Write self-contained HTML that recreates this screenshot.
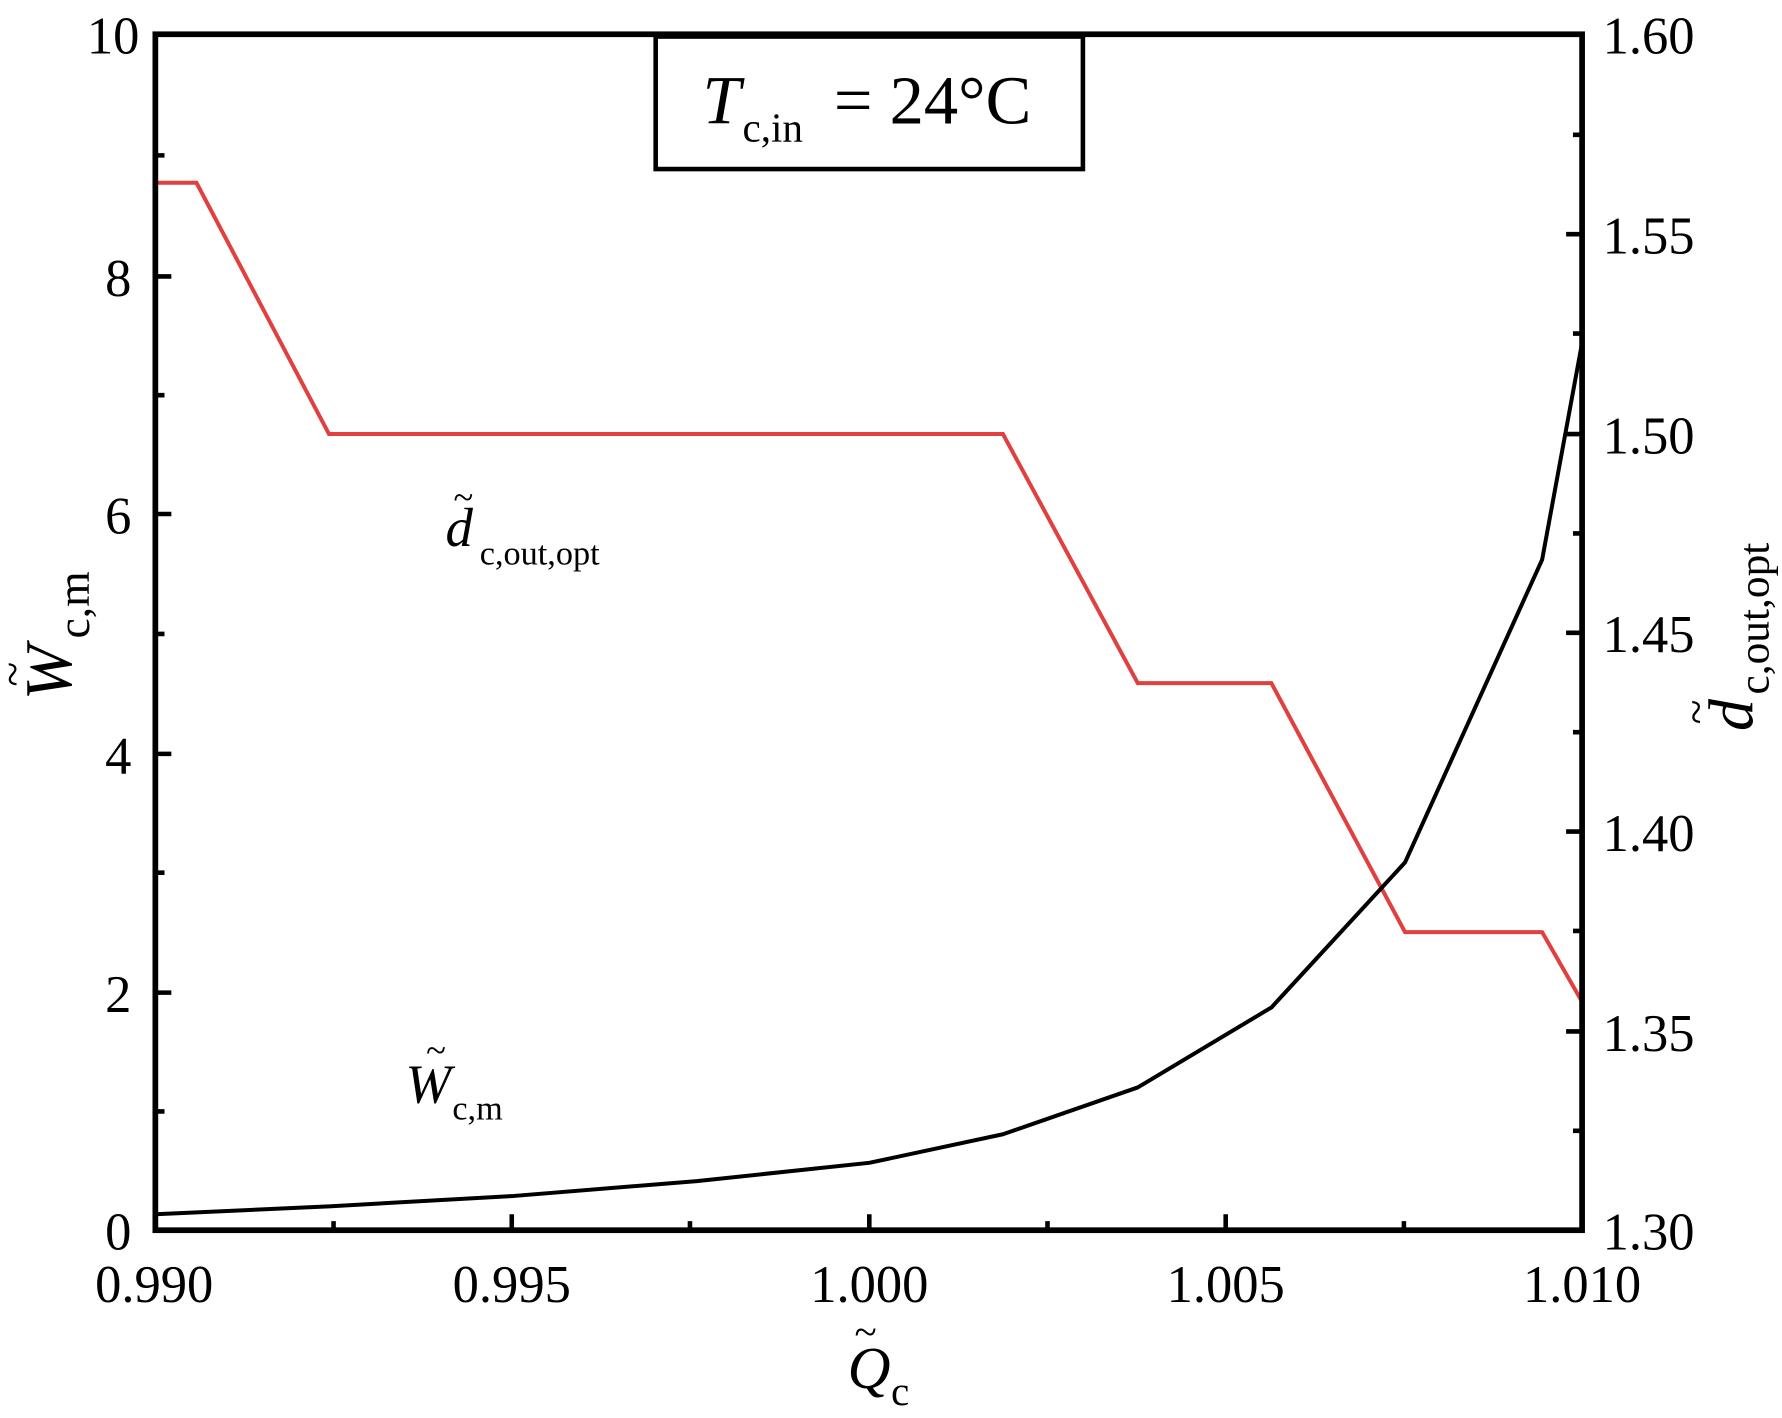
<!DOCTYPE html>
<html><head><style>html,body{margin:0;padding:0;background:#fff}svg{display:block}</style></head>
<body>
<svg width="1782" height="1418" viewBox="0 0 1560 1241.4" preserveAspectRatio="none" xmlns="http://www.w3.org/2000/svg" font-family="Liberation Serif, serif">
<rect width="1560" height="1242" fill="#fff"/>
<polyline fill="none" stroke="#e04040" stroke-width="3.5" points="136,160 172,160 288,380 878,380 996,598 1113,598 1230,816 1350,816 1385,877"/>
<polyline fill="none" stroke="#000" stroke-width="3.5" stroke-linejoin="round" points="136,1063 290,1056 450,1047 610,1034 761,1018 878,993 996,952 1113,882 1230,755 1350,490 1385,300"/>
<rect x="136" y="30" width="1249" height="1047" fill="none" stroke="#000" stroke-width="5"/>
<g stroke="#000" stroke-width="4">
<path d="M448,1077v-14 M761,1077v-14 M1073,1077v-14 M292,1077v-8 M604,1077v-8 M917,1077v-8 M1229,1077v-8"/>
<path d="M136,869h14 M136,660h14 M136,450h14 M136,242h14 M136,973h8 M136,764h8 M136,555h8 M136,346h8 M136,136h8"/>
<path d="M1385,205h-14 M1385,380h-14 M1385,554h-14 M1385,728h-14 M1385,903h-14 M1385,118h-8 M1385,292h-8 M1385,467h-8 M1385,641h-8 M1385,815h-8 M1385,990h-8"/>
</g>
<g font-size="46" fill="#000" text-anchor="middle">
<text x="135" y="1140">0.990</text><text x="448" y="1140">0.995</text><text x="761" y="1140">1.000</text><text x="1073" y="1140">1.005</text><text x="1385" y="1140">1.010</text>
</g>
<g font-size="46" fill="#000" text-anchor="end">
<text x="115" y="1094">0</text><text x="115" y="886">2</text><text x="115" y="677">4</text><text x="115" y="467">6</text><text x="115" y="259">8</text><text x="122" y="47">10</text>
</g>
<g font-size="46" fill="#000" text-anchor="start">
<text x="1403" y="47">1.60</text><text x="1403" y="222">1.55</text><text x="1403" y="397">1.50</text><text x="1403" y="571">1.45</text><text x="1403" y="745">1.40</text><text x="1403" y="920">1.35</text><text x="1403" y="1094">1.30</text>
</g>
<rect x="574" y="32" width="374" height="116" fill="#fff" stroke="#000" stroke-width="4"/>
<text x="615" y="108" font-size="60" font-style="italic">T</text>
<text x="650" y="124" font-size="36">c,in</text>
<text x="730" y="108" font-size="60">= 24°C</text>
<text x="390" y="478" font-size="48" font-style="italic">d</text><text x="397" y="446" font-size="32">~</text>
<text x="420" y="494" font-size="30">c,out,opt</text>
<text x="355" y="965" font-size="48" font-style="italic">W</text><text x="373" y="930" font-size="32">~</text>
<text x="396" y="980" font-size="30">c,m</text>
<text x="742" y="1215" font-size="52" font-style="italic">Q</text><text x="748" y="1178" font-size="36">~</text>
<text x="780" y="1230" font-size="36">c</text>
<g transform="translate(62,545) rotate(-90)">
<text x="-68" y="0" font-size="58" font-style="italic">W</text><text x="-56" y="-38" font-size="40">~</text>
<text x="-14" y="16" font-size="40">c,m</text>
</g>
<g transform="translate(1494,530) rotate(-90)">
<text x="-110" y="40" font-size="56" font-style="italic">d</text><text x="-104" y="4" font-size="40">~</text>
<text x="-78" y="54" font-size="38">c,out,opt</text>
</g>
</svg>
</body></html>
